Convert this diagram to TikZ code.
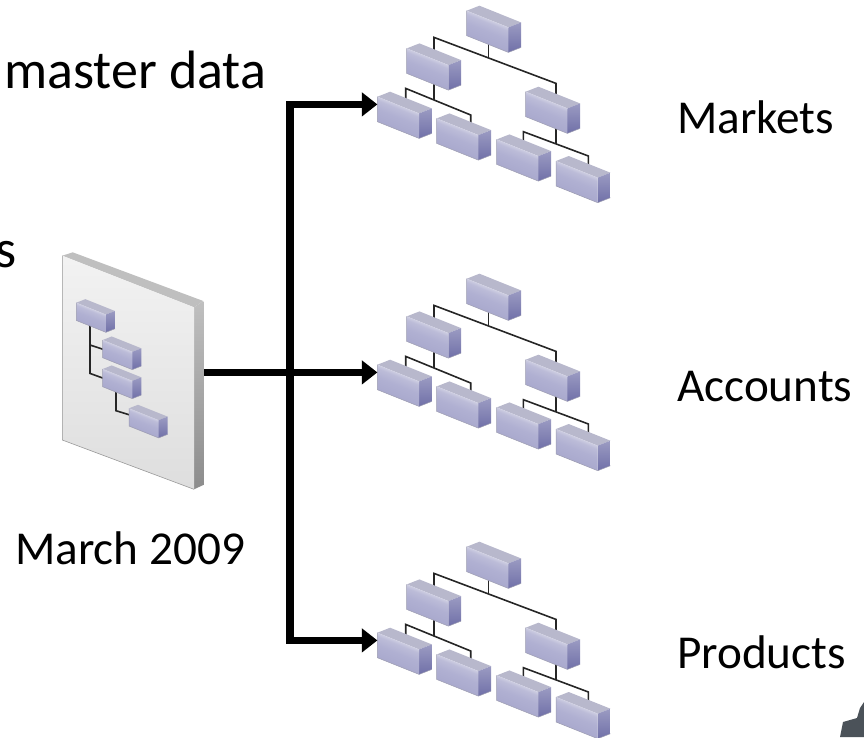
\documentclass[tikz,border=0pt]{standalone}
\usepackage{fontspec}
\setmainfont{Carlito}
\usepackage{xcolor}
\usetikzlibrary{positioning,arrows.meta,calc}
\definecolor{boxside}{HTML}{7070A8}
\definecolor{boxlid}{HTML}{B8B8CC}
\definecolor{boxedge}{HTML}{9C9CB0}
\definecolor{boxlow}{HTML}{A4A4CA}
\definecolor{boxmid}{HTML}{B0B0D2}
\definecolor{boxup}{HTML}{BCBCD8}
\definecolor{boxshine}{HTML}{E0E0EC}
\definecolor{boxrim}{HTML}{C8C8DE}
\definecolor{blob}{HTML}{4B5259}
\pgfdeclareverticalshading{boxglow}{100bp}{
  color(0bp)=(boxlow);
  color(25bp)=(boxlow);
  color(50bp)=(boxmid);
  color(60bp)=(boxup);
  color(68bp)=(boxshine);
  color(75bp)=(boxrim);
  color(100bp)=(boxrim)}
\tikzset{
  bigtext/.style={inner sep=0pt,font=\fontsize{54}{60}\selectfont,anchor=base west},
  plaintext/.style={inner sep=0pt,font=\fontsize{47.2}{54}\selectfont,anchor=base west},
  treeline/.style={draw=black!85,line width=1.6pt,line join=miter},
  flow/.style={line width=7.4pt,-{Triangle[length=15.6pt,width=23.3pt]}},
  orgbox/.pic={
    \fill[boxlid] (0,0) -- (12.7,-5) -- (54.4,11.7) -- (41.7,16.7) -- cycle;
    \shade[top color=boxside!70,bottom color=boxside] (41.7,16.7) -- (54.4,11.7) -- (54.4,36.7) -- (41.7,41.7) -- cycle;
    \shade[shading=boxglow,shading angle=-22] (0,0) -- (41.7,16.7) -- (41.7,41.7) -- (0,25) -- cycle;
    \draw[boxedge,line width=.5pt] (0,0) -- (0,25) -- (41.7,41.7) -- (54.4,36.7);
  },
  orgtree/.pic={
    \coordinate (-in) at (-89.3,93.7);
    % lines sit behind the boxes
    \draw[treeline] (-32.7,45) -- (-32.7,26.7) -- (89.3,72.7) -- (89.3,90);
    \draw[treeline] (21.7,30) -- (21.7,46.7);
    \draw[treeline] (-61,95) -- (-61,77.7) -- (4,104.3) -- (4,115);
    \draw[treeline] (-32.7,70) -- (-32.7,89.3);
    \draw[treeline] (56.7,135) -- (56.7,121) -- (121.7,145.3) -- (121.7,155);
    \draw[treeline] (89.3,110) -- (89.3,133);
    \pic at (0,0) {orgbox};
    \pic at (-60,37.7) {orgbox};
    \pic at (59,81) {orgbox};
    \pic at (-89.3,86) {orgbox};
    \pic at (-30,107.7) {orgbox};
    \pic at (30,128.7) {orgbox};
    \pic at (89.3,150.3) {orgbox};
  },
  orgsheet/.pic={
    \coordinate (-out) at (141.7,116.7);
    \fill[black!25] (0,0) -- (10.4,-3.4) -- (141,45.3) -- (131.7,51.6) -- cycle;
    \shade[top color=black!25,bottom color=black!45] (131.7,51.6) -- (141,45.3) -- (141,229.3) -- (131.7,233.6) -- cycle;
    \shade[top color=black!5,bottom color=black!13] (0,0) -- (131.7,51.6) -- (131.7,233.6) -- (0,184.3) -- cycle;
    \draw[black!40,line width=.6pt] (0,0) -- (0,184.3) -- (131.7,233.6);
    \draw[treeline] (27.7,60) -- (27.7,117.7) -- (45,124);
    \draw[treeline] (27.7,89.3) -- (45,95);
    \draw[treeline] (53.7,130) -- (53.7,155) -- (67.7,159.3);
    \pic[scale=.71] at (14,47) {orgbox};
    \pic[scale=.71] at (40.4,84.3) {orgbox};
    \pic[scale=.71] at (40.4,113.3) {orgbox};
    \pic[scale=.71] at (66.7,152.6) {orgbox};
  },
}
\begin{document}
\begin{tikzpicture}[x=1pt,y=-1pt]
  \useasboundingbox (0,0) rectangle (864,737);
  \clip (0,0) rectangle (864,737);
  \fill[blob] (840,737) -- (843,722) -- (857,718) -- (860,708) -- (864,702) -- (864,737) -- cycle;
  \node[bigtext] (title) at (4,88.5) {master data};
  \node[bigtext] (cut) at (-5,267) {s};
  \node[plaintext] (date) at (15,564) {March 2009};
  \node[plaintext] (mkt) at (677,133.5) {Markets};
  \node[plaintext] (acc) at (677,401.5) {Accounts};
  \node[plaintext] (prd) at (677,668.5) {Products};
  \pic (sheet) at (62.3,255.7) {orgsheet};
  \pic (markets) at (466.7,10.7) {orgtree};
  \pic (accounts) at (466.7,278.7) {orgtree};
  \pic (products) at (466.7,546.7) {orgtree};
  \coordinate (trunk) at ($(sheet-out)+(86,0)$);
  \draw[flow] (sheet-out) -- (accounts-in);
  \draw[flow] (trunk) |- (markets-in);
  \draw[flow] (trunk) |- (products-in);
\end{tikzpicture}
\end{document}
